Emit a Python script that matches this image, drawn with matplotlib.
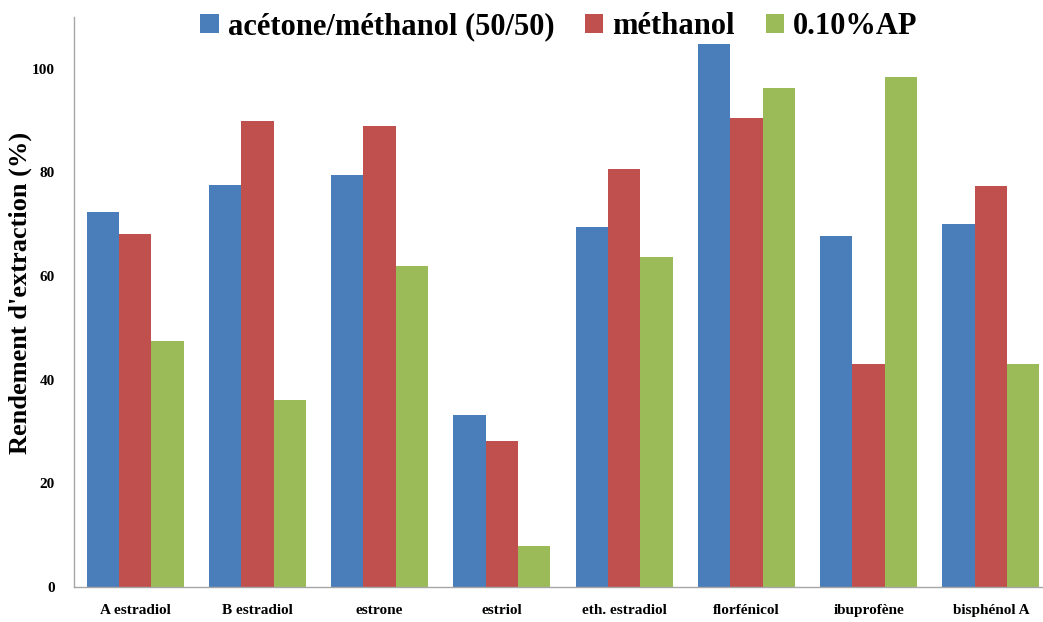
# Rendement d'extraction par solvant -- grouped bars, Excel-like style
import numpy as np
import matplotlib as mpl; mpl.use('Agg')
import matplotlib.pyplot as plt

mpl.rcParams.update({'font.family': 'serif', 'font.serif': ['Liberation Serif', 'DejaVu Serif']})

categories = ['A estradiol', 'B estradiol', 'estrone', 'estriol', 'eth. estradiol',
              'florfénicol', 'ibuprofène', 'bisphénol A']
series = ['acétone/méthanol (50/50)', 'méthanol', '0.10%AP']
acetone_methanol = [72.4, 77.5, 79.6, 33.1, 69.4, 104.8, 67.8, 70.1]
methanol = [68.2, 90.0, 89.0, 28.1, 80.7, 90.6, 43.0, 77.3]
ap_010 = [47.4, 36.0, 62.0, 7.9, 63.6, 96.3, 98.5, 43.0]
yticks = [0, 20, 40, 60, 80, 100]

BLUE = '#4a7ebb'; RED = '#c0504d'; GREEN = '#9bbb59'

W, H = 1043, 622
fig = plt.figure(figsize=(W / 100, H / 100), dpi=100)
ax = fig.add_axes([74 / W, 35 / H, 978 / W, 570 / H])

x = np.arange(len(categories))
w = 0.264
for k, (vals, col, lab) in enumerate(zip([acetone_methanol, methanol, ap_010],
                                          [BLUE, RED, GREEN], series)):
    ax.bar(x + (k - 1) * w, vals, width=w, color=col, label=lab, linewidth=0)

ax.set_xlim(-0.5, len(categories) - 0.5)
ax.set_ylim(0, 110)
ax.set_yticks(yticks)
ax.set_xticks(x)
ax.set_xticklabels(categories, fontsize=11, fontweight='bold')
ax.set_yticklabels([str(v) for v in yticks], fontsize=11, fontweight='bold')
ax.tick_params(axis='both', length=0)
ax.tick_params(axis='y', pad=14)
ax.tick_params(axis='x', pad=12)
for s in ('top', 'right'):
    ax.spines[s].set_visible(False)
for s in ('left', 'bottom'):
    ax.spines[s].set_color('#a6a6a6')
    ax.spines[s].set_linewidth(1.0)

# y label sits close to the figure edge, left of the tick numbers
fig.text(20 / W, 1 - 293 / H, "Rendement d'extraction (%)", fontsize=19, fontweight='bold',
         rotation=90, ha='center', va='center')

fig.legend(loc='upper center', bbox_to_anchor=(559 / W, 1.0), bbox_transform=fig.transFigure,
           ncol=3, frameon=False, prop={'size': 22, 'weight': 'bold'}, borderaxespad=0.0,
           handlelength=0.6, handleheight=0.6, handletextpad=0.3, columnspacing=1.0)

fig.savefig('out.png', dpi=100)
